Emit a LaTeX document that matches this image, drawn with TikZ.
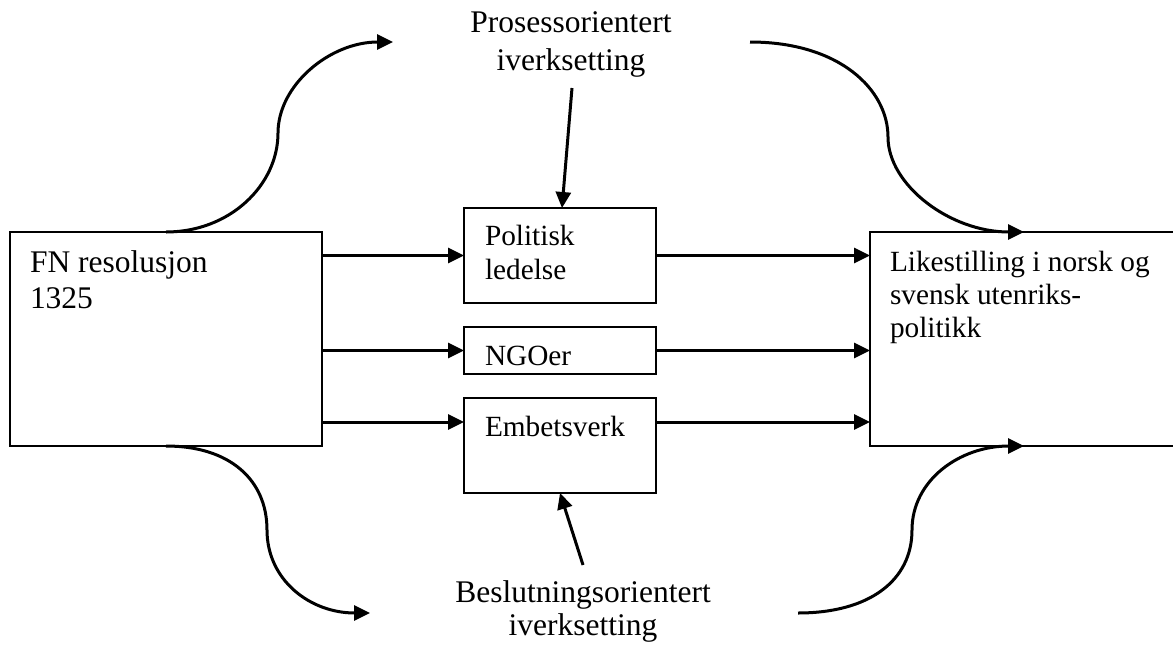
\documentclass[tikz,border=0pt]{standalone}
\usepackage{fontspec}
\setmainfont{Liberation Serif}
\usetikzlibrary{arrows.meta,calc}
\begin{document}
\begin{tikzpicture}[x=1pt,y=-1pt,
  boxnode/.style={draw, line width=1.6pt, inner sep=0pt, outer sep=0pt},
  txt/.style={inner sep=0pt, outer sep=0pt, font=\fontsize{31.5}{35}\selectfont},
  stxt/.style={inner sep=0pt, outer sep=0pt, font=\fontsize{29.3}{33}\selectfont},
  arr/.style={line width=3pt, -{Triangle[length=16pt,width=15pt]}}]
\useasboundingbox (0,0) rectangle (1173,648);
% boxes
\node[boxnode, minimum width=312pt, minimum height=214pt] (fn) at (166,339) {};
\node[boxnode, minimum width=192pt, minimum height=95pt] (pl) at (560,255.5) {};
\node[boxnode, minimum width=192pt, minimum height=47pt] (ngo) at (560,350.5) {};
\node[boxnode, minimum width=192pt, minimum height=95pt] (emb) at (560,445.5) {};
\node[boxnode, minimum width=308pt, minimum height=214pt] (lk) at (1024,339) {};
% box texts
\node[txt, anchor=base west] (fn1) at (30,272) {FN resolusjon};
\node[txt, anchor=base west] (fn2) at (30,308) {1325};
\node[stxt, anchor=base west] (pl1) at (485,245) {Politisk};
\node[stxt, anchor=base west] (pl2) at (485,279) {ledelse};
\node[stxt, anchor=base west] (ngo1) at (485,365) {NGOer};
\node[stxt, anchor=base west] (emb1) at (485,436) {Embetsverk};
\node[stxt, anchor=base west] (lk1) at (890,271) {Likestilling i norsk og};
\node[stxt, anchor=base west] (lk2) at (890,304) {svensk utenriks-};
\node[stxt, anchor=base west] (lk3) at (890,337) {politikk};
% outside labels
\node[txt, anchor=base] (pt1) at (571,32) {Prosessorientert};
\node[txt, anchor=base] (pt2) at (571,70) {iverksetting};
\node[txt, anchor=base] (bt1) at (583,602) {Beslutningsorientert};
\node[txt, anchor=base] (bt2) at (583,635) {iverksetting};
% free ends
\coordinate (ta) at (572,88);
\coordinate (ba) at (583,565);
\coordinate (tl) at (393,42);
\coordinate (tr) at (750,42);
\coordinate (bl) at (370,613);
\coordinate (br) at (798,613);
% straight arrows
\draw[arr] (fn.east |- pl.west) -- (pl.west);
\draw[arr] (fn.east |- ngo.west) -- (ngo.west);
\draw[arr] ($(fn.east |- emb.north west)+(0,24)$) -- ($(emb.north west)+(0,24)$);
\draw[arr] (pl.east) -- (pl.east -| lk.west);
\draw[arr] (ngo.east) -- (ngo.east -| lk.west);
\draw[arr] ($(emb.north east)+(0,24)$) -- ($(lk.west |- emb.north east)+(0,24)$);
\draw[arr] (ta) -- ([xshift=2pt]pl.north);
\draw[arr] (ba) -- (emb.south);
% curved arrows
\draw[arr] (fn.north) .. controls (230,232) and (278,185) .. (278,133)
  .. controls (278,85) and (330,42) .. (tl);
\draw[arr] (tr) .. controls (840,42) and (888,90) .. (888,137)
  .. controls (888,185) and (950,232) .. (lk.north);
\draw[arr] (fn.south) .. controls (230,446) and (267,480) .. (267,530)
  .. controls (267,580) and (310,613) .. (bl);
\draw[arr] (br) .. controls (870,613) and (912,580) .. (912,530)
  .. controls (912,480) and (960,446) .. (lk.south);
\end{tikzpicture}
\end{document}
